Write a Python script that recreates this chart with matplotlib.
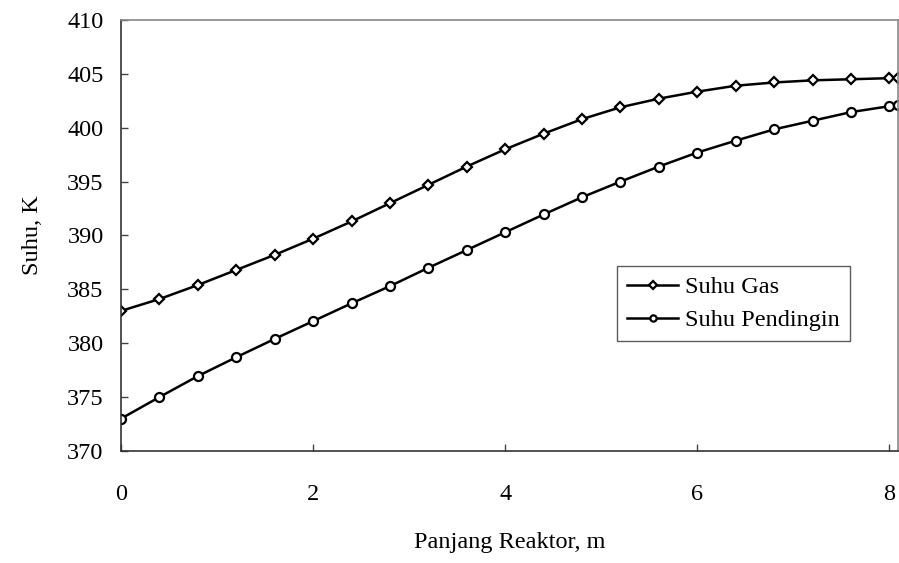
import matplotlib
matplotlib.use('Agg')
import matplotlib.pyplot as plt

plt.rcParams['font.family'] = ['Liberation Serif', 'DejaVu Serif']

# panjang reaktor (m)
panjang = [0, 0.4, 0.8, 1.2, 1.6, 2.0, 2.4, 2.8, 3.2, 3.6, 4.0, 4.4, 4.8,
           5.2, 5.6, 6.0, 6.4, 6.8, 7.2, 7.6, 8.0, 8.09]
suhu_gas = [383.0, 384.1, 385.4, 386.8, 388.2, 389.7, 391.3, 393.0, 394.7,
            396.4, 398.0, 399.45, 400.8, 401.9, 402.7, 403.35, 403.9, 404.2,
            404.4, 404.5, 404.6, 404.65]
suhu_pendingin = [373.0, 375.0, 376.95, 378.7, 380.4, 382.05, 383.7, 385.3,
                  387.0, 388.65, 390.3, 391.95, 393.55, 395.0, 396.4, 397.7,
                  398.8, 399.85, 400.65, 401.45, 402.0, 402.15]
y_ticks = [370, 375, 380, 385, 390, 395, 400, 405, 410]
x_ticks = [0, 2, 4, 6, 8]

fig = plt.figure(figsize=(8.99, 5.63), dpi=100)
ax = fig.add_axes([0.1346, 0.199, 0.8644, 0.7655])

ax.plot(panjang, suhu_gas, color='black', lw=1.8, marker='D', ms=5.5,
        mfc='white', mec='black', mew=1.6, label='Suhu Gas')
ax.plot(panjang, suhu_pendingin, color='black', lw=1.8, marker='o', ms=6.5,
        mfc='white', mec='black', mew=1.6, label='Suhu Pendingin')

ax.set_xlim(0, 8.09)
ax.set_ylim(370, 410)
ax.set_xticks(x_ticks)
ax.set_yticks(y_ticks)
ax.tick_params(direction='in', length=5, width=1, labelsize=17.5, color='#444')
ax.tick_params(axis='x', pad=24)
ax.tick_params(axis='y', pad=12.5)

for s in ['left', 'bottom']:
    ax.spines[s].set_color('#333')
    ax.spines[s].set_linewidth(1.2)
for s in ['top', 'right']:
    ax.spines[s].set_color('#888')
    ax.spines[s].set_linewidth(1.2)

ax.set_xlabel('Panjang Reaktor, m', fontsize=17.5, labelpad=19)
ax.set_ylabel('Suhu, K', fontsize=17.5, labelpad=17)

leg = ax.legend(loc='upper left', bbox_to_anchor=(0.638, 0.429),
                fontsize=17.5, frameon=True, fancybox=False,
                edgecolor='#333', borderpad=0.42, labelspacing=0.45,
                handlelength=2.1, handletextpad=0.3, borderaxespad=0)
leg.get_frame().set_linewidth(1.0)
for line in leg.get_lines():
    line.set_markersize(4.5)

fig.savefig('out.png', dpi=100)
